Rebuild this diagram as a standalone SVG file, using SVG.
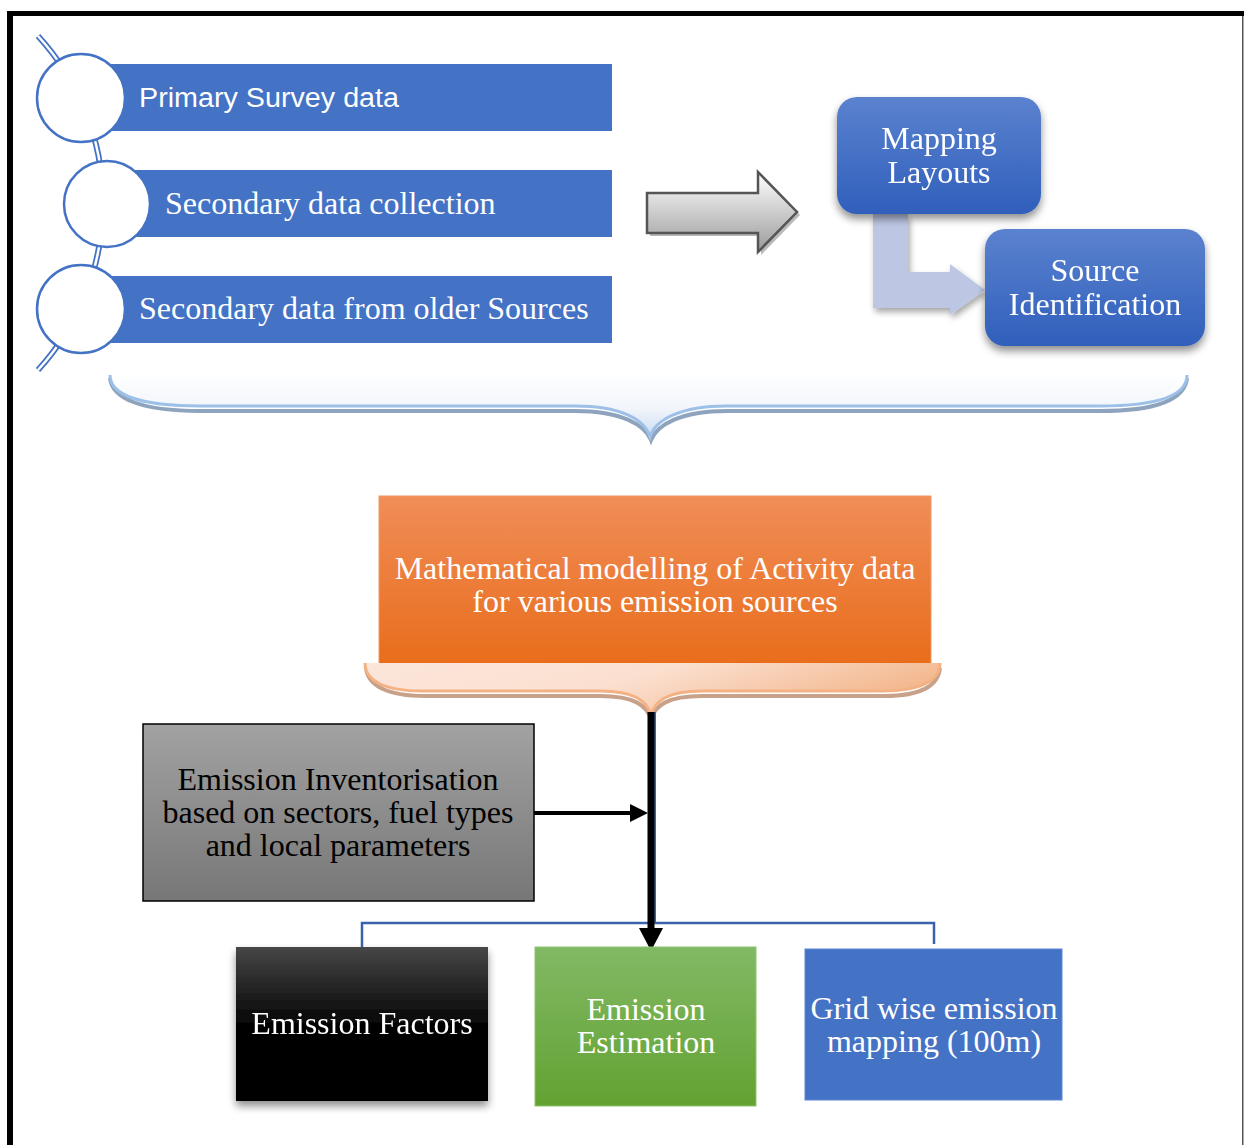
<svg xmlns="http://www.w3.org/2000/svg" width="1245" height="1145" viewBox="0 0 1245 1145">
  <defs>
    <linearGradient id="gBlueBox" x1="0" y1="0" x2="0" y2="1">
      <stop offset="0" stop-color="#5b82cf"/>
      <stop offset="1" stop-color="#2f5fbb"/>
    </linearGradient>
    <linearGradient id="gArrow" x1="0" y1="0" x2="0" y2="1">
      <stop offset="0" stop-color="#ffffff"/>
      <stop offset="1" stop-color="#9b9b9b"/>
    </linearGradient>
    <linearGradient id="gBraceBlue" x1="0" y1="0" x2="0" y2="1">
      <stop offset="0" stop-color="#ffffff"/>
      <stop offset="0.55" stop-color="#f1f5fb"/>
      <stop offset="1" stop-color="#c9dcf2"/>
    </linearGradient>
    <linearGradient id="gOrange" x1="0" y1="0" x2="0" y2="1">
      <stop offset="0" stop-color="#f08d58"/>
      <stop offset="1" stop-color="#e96d1b"/>
    </linearGradient>
    <linearGradient id="gBracePeach" x1="0" y1="0" x2="1" y2="0.3">
      <stop offset="0" stop-color="#fbe6da"/>
      <stop offset="0.5" stop-color="#fbe0d0"/>
      <stop offset="1" stop-color="#f3b88f"/>
    </linearGradient>
    <linearGradient id="gGray" x1="0" y1="0" x2="0" y2="1">
      <stop offset="0" stop-color="#a2a2a2"/>
      <stop offset="1" stop-color="#777777"/>
    </linearGradient>
    <linearGradient id="gBlack" x1="0" y1="0" x2="0" y2="1">
      <stop offset="0" stop-color="#474747"/>
      <stop offset="0.5" stop-color="#050505"/>
      <stop offset="1" stop-color="#000000"/>
    </linearGradient>
    <linearGradient id="gGreen" x1="0" y1="0" x2="0" y2="1">
      <stop offset="0" stop-color="#82b965"/>
      <stop offset="1" stop-color="#62a232"/>
    </linearGradient>
    <filter id="shadow" x="-20%" y="-20%" width="140%" height="150%">
      <feGaussianBlur in="SourceAlpha" stdDeviation="4"/>
      <feOffset dx="0" dy="5" result="b"/>
      <feComponentTransfer><feFuncA type="linear" slope="0.45"/></feComponentTransfer>
      <feMerge><feMergeNode/><feMergeNode in="SourceGraphic"/></feMerge>
    </filter>
    <filter id="softShadow" x="-20%" y="-20%" width="140%" height="150%">
      <feGaussianBlur in="SourceAlpha" stdDeviation="3"/>
      <feOffset dx="2" dy="4" result="b"/>
      <feComponentTransfer><feFuncA type="linear" slope="0.35"/></feComponentTransfer>
      <feMerge><feMergeNode/><feMergeNode in="SourceGraphic"/></feMerge>
    </filter>
  </defs>
  <style>
    .serif { font-family: "Liberation Serif", "Times New Roman", serif; font-size: 32px; }
    .sans { font-family: "Liberation Sans", Arial, sans-serif; }
    .w { fill: #ffffff; }
    .k { fill: #000000; }
    .mid { text-anchor: middle; }
    .bar { fill: #4472c4; }
    .ring { fill: #ffffff; stroke: #4472c4; stroke-width: 2.5; }
  </style>

  <!-- page frame -->
  <rect x="0" y="0" width="1245" height="1145" fill="#ffffff"/>
  <rect x="7" y="11" width="1237" height="5" fill="#000"/>
  <rect x="7" y="11" width="6" height="1134" fill="#000"/>
  <rect x="1242" y="16" width="1.5" height="1129" fill="#555"/>

  <!-- timeline spine behind the data sources -->
  <g id="spine">
    <path d="M38,36 A247,247 0 0 1 38,370" fill="none" stroke="#4472c4" stroke-width="6"/>
    <path d="M38,36 A247,247 0 0 1 38,370" fill="none" stroke="#ffffff" stroke-width="2.5"/>
  </g>

  <g id="primary-survey">
    <rect class="bar" x="90" y="64" width="522" height="67"/>
    <circle class="ring" cx="81" cy="98" r="44"/>
    <text class="sans w" x="139" y="107" font-size="27" textLength="260" lengthAdjust="spacingAndGlyphs">Primary Survey data</text>
  </g>
  <g id="secondary-collection">
    <rect class="bar" x="115" y="170" width="497" height="67"/>
    <circle class="ring" cx="107" cy="204" r="43"/>
    <text class="serif w" x="165" y="214">Secondary data collection</text>
  </g>
  <g id="secondary-older">
    <rect class="bar" x="90" y="276" width="522" height="67"/>
    <circle class="ring" cx="81" cy="309" r="44"/>
    <text class="serif w" x="139" y="319">Secondary data from older Sources</text>
  </g>

  <!-- block arrow towards mapping -->
  <g id="block-arrow">
    <path d="M650,196 L761,196 L761,175 L800,215 L761,255 L761,236 L650,236 Z" fill="#8a8a8a" opacity="0.6"/>
    <path d="M647,193 L758,193 L758,172 L797,212 L758,252 L758,233 L647,233 Z" fill="url(#gArrow)" stroke="#555" stroke-width="2.5" stroke-linejoin="miter"/>
  </g>

  <!-- bent arrow between mapping and source -->
  <g id="bent-arrow">
    <path d="M873,214 L908,214 L908,272 L950,272 L950,264 L985,290 L950,315 L950,308 L873,308 Z" fill="#bdc7e3" filter="url(#softShadow)"/>
  </g>

  <g id="mapping-layouts" filter="url(#shadow)">
    <rect x="837" y="97" width="204" height="117" rx="20" fill="url(#gBlueBox)"/>
    <text class="serif w mid" x="939" y="149">Mapping</text>
    <text class="serif w mid" x="939" y="183">Layouts</text>
  </g>
  <g id="source-identification" filter="url(#shadow)">
    <rect x="985" y="229" width="220" height="117" rx="20" fill="url(#gBlueBox)"/>
    <text class="serif w mid" x="1095" y="281">Source</text>
    <text class="serif w mid" x="1095" y="315">Identification</text>
  </g>

  <!-- upper brace gathering inputs -->
  <g id="brace-inputs">
    <path d="M110,378 C112,398 140,411 200,411 L575,411 C622,411 645,425 651,440 C657,425 680,411 727,411 L1100,411 C1160,411 1185,398 1187,378" fill="none" stroke="#8ea3bd" stroke-width="4"/>
    <path d="M110,375 C110,395 140,406 200,406 L575,406 C622,406 645,420 650,437 C655,420 680,406 727,406 L1100,406 C1160,406 1187,395 1187,375 Z" fill="url(#gBraceBlue)"/>
    <path d="M110,375 C110,395 140,406 200,406 L575,406 C622,406 645,420 650,437 C655,420 680,406 727,406 L1100,406 C1160,406 1187,395 1187,375" fill="none" stroke="#9dc0e8" stroke-width="3"/>
  </g>

  <g id="modelling">
    <rect x="379" y="496" width="552" height="168" fill="url(#gOrange)" stroke="#f19a64" stroke-width="1"/>
    <text class="serif w mid" x="655" y="579">Mathematical modelling of Activity data</text>
    <text class="serif w mid" x="655" y="612">for various emission sources</text>
  </g>

  <!-- lower brace under modelling -->
  <g id="brace-modelling">
    <path d="M366,668 C368,686 388,696 425,696 L600,696 C635,696 647,706 651,719 C655,706 667,696 702,696 L885,696 C922,696 938,686 940,668" fill="none" stroke="#c7a189" stroke-width="4"/>
    <path d="M365,663 C365,681 385,691 422,691 L600,691 C635,691 647,701 651,715 C655,701 667,691 702,691 L883,691 C920,691 940,681 940,663 Z" fill="url(#gBracePeach)"/>
    <path d="M365,663 C365,681 385,691 422,691 L600,691 C635,691 647,701 651,715 C655,701 667,691 702,691 L883,691 C920,691 940,681 940,663" fill="none" stroke="#f4b183" stroke-width="3"/>
  </g>

  <!-- connectors -->
  <g id="connectors">
    <path d="M362,947 L362,923 L934,923 L934,944" fill="none" stroke="#3a62ab" stroke-width="2.5"/>
    <line x1="655" y1="712" x2="655" y2="923" stroke="#3a62ab" stroke-width="2"/>
    <line x1="651" y1="712" x2="651" y2="930" stroke="#000" stroke-width="7"/>
    <path d="M639,928 L663,928 L651,951 Z" fill="#000"/>
    <line x1="534" y1="813" x2="632" y2="813" stroke="#000" stroke-width="4"/>
    <path d="M630,804 L648,813 L630,822 Z" fill="#000"/>
  </g>

  <g id="inventorisation">
    <rect x="143" y="724" width="391" height="177" fill="url(#gGray)" stroke="#000" stroke-width="1.5"/>
    <text class="serif k mid" x="338" y="790">Emission Inventorisation</text>
    <text class="serif k mid" x="338" y="823">based on sectors, fuel types</text>
    <text class="serif k mid" x="338" y="856">and local parameters</text>
  </g>

  <g id="emission-factors" filter="url(#shadow)">
    <rect x="236" y="947" width="252" height="154" fill="url(#gBlack)"/>
    <text class="serif w mid" x="362" y="1034">Emission Factors</text>
  </g>

  <g id="emission-estimation">
    <rect x="535" y="947" width="221" height="159" fill="url(#gGreen)" stroke="#8cc46c" stroke-width="1"/>
    <text class="serif w mid" x="646" y="1020">Emission</text>
    <text class="serif w mid" x="646" y="1053">Estimation</text>
  </g>

  <g id="grid-mapping">
    <rect x="805" y="949" width="257" height="151" fill="#4472c4" stroke="#5a86d4" stroke-width="1"/>
    <text class="serif w mid" x="934" y="1019">Grid wise emission</text>
    <text class="serif w mid" x="934" y="1052">mapping (100m)</text>
  </g>
</svg>
